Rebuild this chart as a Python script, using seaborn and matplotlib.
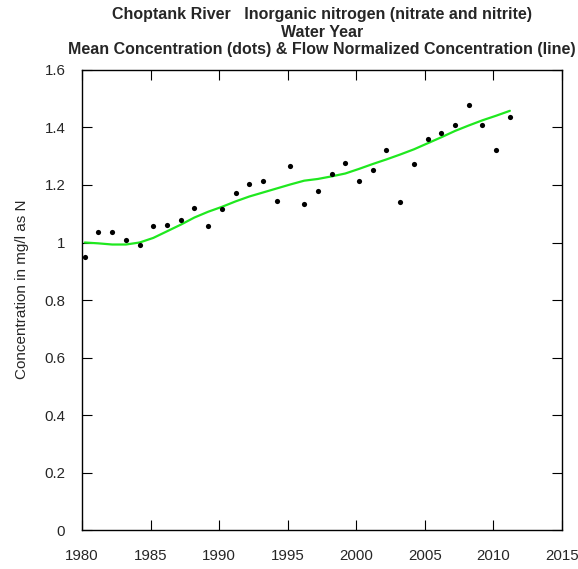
import numpy as np
import pandas as pd
import matplotlib
matplotlib.use("Agg")
import matplotlib.pyplot as plt
import seaborn as sns

# Water year (decimal) and annual mean concentration (dots)
years = [1980.2, 1981.2, 1982.2, 1983.2, 1984.2, 1985.2, 1986.2, 1987.2,
         1988.2, 1989.2, 1990.2, 1991.2, 1992.2, 1993.2, 1994.2, 1995.2,
         1996.2, 1997.2, 1998.2, 1999.2, 2000.2, 2001.2, 2002.2, 2003.2,
         2004.2, 2005.2, 2006.2, 2007.2, 2008.2, 2009.2, 2010.2, 2011.2]
mean_conc = [0.948, 1.035, 1.036, 1.007, 0.990, 1.057, 1.061, 1.079,
             1.121, 1.056, 1.115, 1.173, 1.202, 1.215, 1.144, 1.266,
             1.134, 1.180, 1.238, 1.277, 1.213, 1.251, 1.322, 1.140,
             1.274, 1.360, 1.382, 1.408, 1.478, 1.409, 1.323, 1.438]
# Flow normalized concentration (line)
flow_norm = [1.000, 0.997, 0.993, 0.993, 1.000, 1.016, 1.039, 1.062,
             1.087, 1.107, 1.124, 1.143, 1.160, 1.174, 1.188, 1.202,
             1.215, 1.221, 1.230, 1.240, 1.256, 1.273, 1.289, 1.306,
             1.324, 1.345, 1.366, 1.388, 1.407, 1.425, 1.441, 1.458]

xticks = [1980, 1985, 1990, 1995, 2000, 2005, 2010, 2015]
yticks = [0, 0.2, 0.4, 0.6, 0.8, 1, 1.2, 1.4, 1.6]

df = pd.DataFrame({"year": years, "mean": mean_conc, "flow": flow_norm})

sns.set_style("ticks")
plt.rcParams['font.family'] = ['Liberation Sans', 'DejaVu Sans']

fig = plt.figure(figsize=(5.78, 5.69), dpi=100)
ax = fig.add_axes([0.1419, 0.0685, 0.8304, 0.8085])

sns.lineplot(data=df, x="year", y="flow", color="#1fe81f", linewidth=1.6, ax=ax)
sns.scatterplot(data=df, x="year", y="mean", color="black", s=14,
                edgecolor="black", linewidth=0, ax=ax, zorder=3)

ax.set_xlim(1980, 2015)
ax.set_ylim(0, 1.6)
ax.set_xticks(xticks)
ax.set_xticklabels([str(t) for t in xticks])
ax.set_yticks(yticks)
ax.set_yticklabels(["0", "0.2", "0.4", "0.6", "0.8", "1", "1.2", "1.4", "1.6"])
ax.tick_params(direction="in", length=7, width=0.8, labelsize=10.8,
               top=True, right=True, color="black")
ax.tick_params(axis="x", pad=14)
ax.tick_params(axis="y", pad=12)
for sp in ax.spines.values():
    sp.set_visible(True)
    sp.set_linewidth(1.0)
    sp.set_color("black")

ax.set_xlabel("")
ax.set_ylabel("Concentration in mg/l as N", fontsize=11)
ax.yaxis.set_label_coords(-0.11, 0.524)

# title centred over the plot area
ax.text(0.5, 1.0 + 63 / 460, "Choptank River   Inorganic nitrogen (nitrate and nitrite)\n"
        "Water Year\n"
        "Mean Concentration (dots) & Flow Normalized Concentration (line)",
        transform=ax.transAxes, ha="center", va="top", fontsize=11.5,
        fontweight="bold", linespacing=1.22)

fig.savefig("out.png", dpi=100)
